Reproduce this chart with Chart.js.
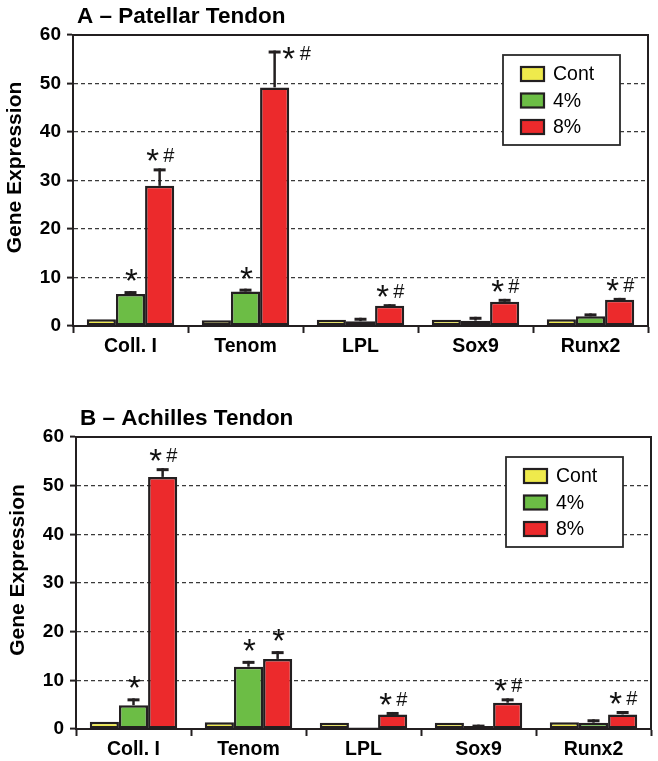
<!DOCTYPE html>
<html>
<head>
<meta charset="utf-8">
<script src="https://cdn.jsdelivr.net/npm/chart.js@4.4.1/dist/chart.umd.min.js"></script>
<style>
  html, body { margin: 0; padding: 0; background: #fff; }
  #wrap { position: relative; width: 658px; height: 761px; }
  canvas { position: absolute; left: 0; }
  #chartA { top: 0; }
  #chartB { top: 380px; }
</style>
</head>
<body>
<div id="wrap">
  <canvas id="chartA" width="658" height="380"></canvas>
  <canvas id="chartB" width="658" height="381"></canvas>
</div>
<script>
// ==================== DATA ====================
const categories = ['Coll. I', 'Tenom', 'LPL', 'Sox9', 'Runx2'];
const groupLabels = ['Cont', '4%', '8%'];
const groupColors = ['#efea4c', '#6cbd45', '#ec2a2c'];
const yTickValues = [0, 10, 20, 30, 40, 50, 60];

// A - Patellar Tendon
const patCont = [1.4, 1.2, 1.3, 1.3, 1.4];
const pat4 = [6.6, 7.1, 1.0, 1.1, 2.0];
const pat8 = [28.9, 49.2, 4.2, 5.0, 5.4];
const patErr4 = [0.6, 0.6, 0.7, 0.8, 0.6];
const patErr8 = [3.6, 7.6, 0.3, 0.6, 0.4];
const patSig4 = ['*', '*', '', '', ''];
const patSig8 = ['* #', '* #', '* #', '* #', '* #'];

// B - Achilles Tendon
const achCont = [1.5, 1.4, 1.3, 1.3, 1.4];
const ach4 = [4.9, 12.8, 0.3, 0.6, 1.3];
const ach8 = [51.8, 14.4, 3.0, 5.4, 3.0];
const achErr4 = [1.4, 1.2, 0, 0.3, 0.7];
const achErr8 = [1.8, 1.6, 0.5, 0.9, 0.7];
const achSig4 = ['*', '*', '', '', ''];
const achSig8 = ['* #', '*', '* #', '* #', '* #'];

const FONT = '"Liberation Sans", Arial, Helvetica, sans-serif';
const INK = '#231f20';

// ==================== PLUGINS ====================
function drawCentered(ctx, text, font, cx, cy) {
    ctx.font = font;
    ctx.textAlign = 'left';
    ctx.textBaseline = 'alphabetic';
    const m = ctx.measureText(text);
    const w = m.actualBoundingBoxLeft + m.actualBoundingBoxRight;
    const h = m.actualBoundingBoxAscent + m.actualBoundingBoxDescent;
    ctx.fillText(text, cx - w / 2 + m.actualBoundingBoxLeft, cy - h / 2 + m.actualBoundingBoxAscent);
}

const framePlugin = {
    id: 'frame',
    beforeDatasetsDraw(chart) {
        const { ctx, chartArea: a } = chart;
        ctx.save();
        ctx.strokeStyle = INK;
        ctx.lineWidth = 2;
        ctx.beginPath();
        ctx.moveTo(a.left, a.top);
        ctx.lineTo(a.right, a.top);
        ctx.lineTo(a.right, a.bottom);
        ctx.stroke();
        ctx.restore();
    }
};

const STAR_FONT = '33px ' + FONT;
const HASH_FONT = '20px ' + FONT;

const errorMarksPlugin = {
    id: 'errorMarks',
    afterDatasetsDraw(chart, args, opts) {
        const { ctx, chartArea: a } = chart;
        const y = chart.scales.y;
        ctx.save();
        ctx.strokeStyle = INK;
        ctx.fillStyle = '#111';
        chart.data.datasets.forEach((ds, di) => {
            const meta = chart.getDatasetMeta(di);
            const errs = opts.errors[di] || [];
            const sigs = opts.marks[di] || [];
            meta.data.forEach((bar, i) => {
                const e = errs[i] || 0;
                const top = y.getPixelForValue(ds.data[i] + e);
                if (e > 0) {
                    ctx.lineWidth = 2.5;
                    ctx.beginPath();
                    ctx.moveTo(bar.x, bar.y);
                    ctx.lineTo(bar.x, top);
                    ctx.stroke();
                    ctx.lineWidth = 3;
                    ctx.beginPath();
                    ctx.moveTo(bar.x - 6, top + 1.5);
                    ctx.lineTo(bar.x + 6, top + 1.5);
                    ctx.stroke();
                }
                const sig = sigs[i];
                if (!sig) return;
                const parts = sig.split(' ');
                if (parts.length === 1) {
                    drawCentered(ctx, '*', STAR_FONT, bar.x + 1, top - 16);
                    return;
                }
                let cy = top - 13, sx = bar.x - 7, hx = bar.x + 9.5;
                if (cy - 8 < a.top) {
                    // no room above: put it beside the cap
                    cy = top + 2; sx = bar.x + 14; hx = bar.x + 31;
                }
                drawCentered(ctx, '*', STAR_FONT, sx, cy);
                drawCentered(ctx, '#', HASH_FONT, hx, cy);
            });
        });
        ctx.restore();
    }
};

const panelTextPlugin = {
    id: 'panelText',
    afterDraw(chart, args, opts) {
        const { ctx, chartArea: a } = chart;
        ctx.save();
        ctx.fillStyle = '#000';
        ctx.font = 'bold 22.5px ' + FONT;
        ctx.textAlign = 'left';
        ctx.textBaseline = 'alphabetic';
        ctx.fillText(opts.title, a.left + 4, a.top - 12);

        ctx.translate(a.left - 58, (a.top + a.bottom) / 2 - 13);
        ctx.rotate(-Math.PI / 2);
        ctx.font = 'bold 21px ' + FONT;
        ctx.textAlign = 'center';
        ctx.textBaseline = 'middle';
        ctx.fillText(opts.yTitle, 0, 0);
        ctx.restore();

        // legend box
        const x0 = a.right - 145, y0 = a.top + 20;
        ctx.save();
        ctx.fillStyle = '#fff';
        ctx.fillRect(x0, y0, 117, 90);
        ctx.strokeStyle = '#2a2a2a';
        ctx.lineWidth = 1.8;
        ctx.strokeRect(x0, y0, 117, 90);
        chart.data.datasets.forEach((ds, i) => {
            const cy = y0 + 19 + i * 26.5;
            ctx.fillStyle = ds.backgroundColor;
            ctx.fillRect(x0 + 18, cy - 7, 23, 14);
            ctx.strokeStyle = INK;
            ctx.lineWidth = 2.2;
            ctx.strokeRect(x0 + 18, cy - 7, 23, 14);
            ctx.fillStyle = '#000';
            ctx.font = '19.5px ' + FONT;
            ctx.textAlign = 'left';
            ctx.textBaseline = 'middle';
            ctx.fillText(ds.label, x0 + 50, cy + 1);
        });
        ctx.restore();
    }
};

// ==================== PANELS ====================
function makePanel(id, p) {
    const canvas = document.getElementById(id);
    const H = canvas.height;
    return new Chart(canvas, {
        type: 'bar',
        data: {
            labels: categories,
            datasets: p.values.map((vals, i) => ({
                label: groupLabels[i],
                data: vals,
                backgroundColor: groupColors[i],
                borderColor: INK,
                borderWidth: 2.5,
                borderSkipped: false,
                categoryPercentage: 0.76,
                barPercentage: 1.0
            }))
        },
        options: {
            responsive: false,
            animation: false,
            layout: { padding: { top: p.top, right: p.right, bottom: 0, left: 0 } },
            plugins: {
                legend: { display: false },
                tooltip: { enabled: false },
                errorMarks: { errors: p.errors, marks: p.marks },
                panelText: { title: p.title, yTitle: 'Gene Expression' }
            },
            scales: {
                x: {
                    afterFit: s => { s.height = H - p.bottom; },
                    grid: {
                        drawOnChartArea: false,
                        tickLength: 7,
                        tickColor: INK,
                        tickWidth: 2
                    },
                    border: { color: INK, width: 2 },
                    ticks: {
                        color: '#000',
                        padding: 2,
                        font: { family: FONT, size: 19.5, weight: 'bold' }
                    }
                },
                y: {
                    min: 0,
                    max: 60,
                    afterFit: s => { s.width = p.left; },
                    afterBuildTicks: s => { s.ticks = yTickValues.map(v => ({ value: v })); },
                    grid: {
                        color: c => (c.tick && (c.tick.value === 0 || c.tick.value === 60)) ? 'rgba(0,0,0,0)' : '#3a3a3a',
                        lineWidth: 1.2,
                        tickLength: 6,
                        tickColor: INK,
                        tickWidth: 2
                    },
                    border: { color: INK, width: 2, dash: [4, 3] },
                    ticks: {
                        color: '#000',
                        padding: 6,
                        font: { family: FONT, size: 19, weight: 'bold' }
                    }
                }
            }
        },
        plugins: [framePlugin, errorMarksPlugin, panelTextPlugin]
    });
}

makePanel('chartA', {
    title: 'A \u2013 Patellar Tendon',
    values: [patCont, pat4, pat8],
    errors: [null, patErr4, patErr8],
    marks: [null, patSig4, patSig8],
    top: 35, bottom: 326, left: 73, right: 10
});

makePanel('chartB', {
    title: 'B \u2013 Achilles Tendon',
    values: [achCont, ach4, ach8],
    errors: [null, achErr4, achErr8],
    marks: [null, achSig4, achSig8],
    top: 57, bottom: 349, left: 76, right: 7
});
</script>
</body>
</html>
